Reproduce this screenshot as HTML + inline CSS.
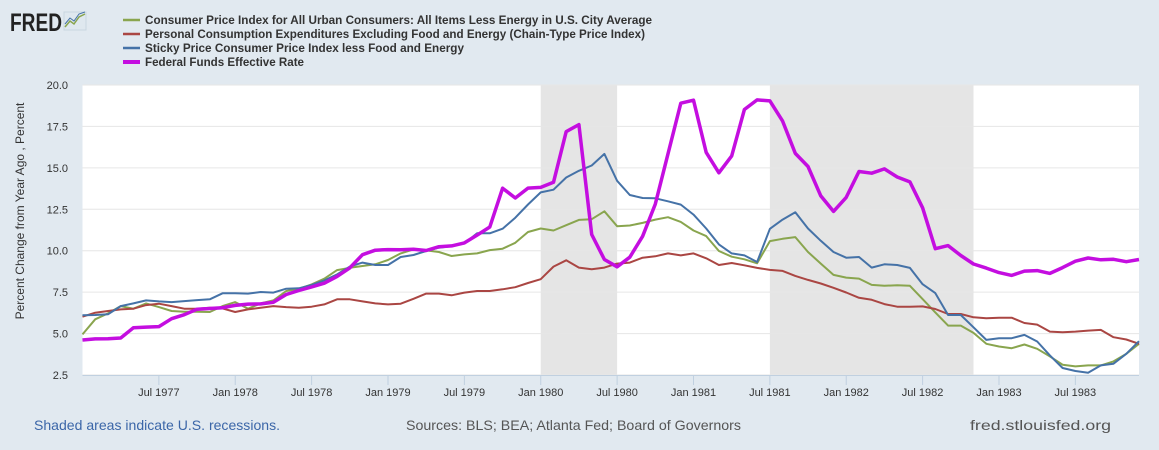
<!DOCTYPE html>
<html><head><meta charset="utf-8"><style>
html,body{margin:0;padding:0;background:#e1e9f0;width:1159px;height:450px;overflow:hidden}
svg{display:block;font-family:"Liberation Sans",Arial,sans-serif}
</style></head><body>
<svg id="chart" width="1159" height="450" xmlns="http://www.w3.org/2000/svg">
<rect width="1159" height="450" fill="#e1e9f0"/>
<g>
<text x="10" y="31" font-size="25" font-weight="bold" fill="#222" textLength="52" lengthAdjust="spacingAndGlyphs">FRED</text>
<rect x="64" y="12" width="22" height="18" fill="#dfe8ef" stroke="#c9d6e0"/>
<polyline points="65,27 70,21 74,24 79,17 85,14" fill="none" stroke="#89a54e" stroke-width="1.5"/>
<polyline points="65,24 70,18 74,21 79,14 85,12" fill="none" stroke="#4572a7" stroke-width="1"/>
</g>
<g id="legend" font-size="12" font-weight="bold" fill="#333"></g>
<g id="plot"></g>
<text x="0" y="0" transform="translate(24,211) rotate(-90)" text-anchor="middle" font-size="12" fill="#333">Percent Change from Year Ago , Percent</text>
<text x="34" y="430" font-size="14" fill="#3b66a8" textLength="246" lengthAdjust="spacingAndGlyphs">Shaded areas indicate U.S. recessions.</text>
<text x="406" y="430" font-size="14" fill="#555" textLength="335" lengthAdjust="spacingAndGlyphs">Sources: BLS; BEA; Atlanta Fed; Board of Governors</text>
<text x="970" y="430" font-size="14" fill="#555" textLength="141" lengthAdjust="spacingAndGlyphs">fred.stlouisfed.org</text>
</svg>
<script>
const startYear = 1977;
const fedFunds = [4.61,4.68,4.69,4.73,5.35,5.39,5.42,5.90,6.14,6.47,6.51,6.56,
6.70,6.78,6.79,6.89,7.36,7.60,7.81,8.04,8.45,8.96,9.76,10.03,
10.07,10.06,10.09,10.01,10.24,10.29,10.47,10.94,11.43,13.77,13.18,13.78,
13.82,14.13,17.19,17.61,10.98,9.47,9.03,9.61,10.87,12.81,15.85,18.90,
19.08,15.93,14.70,15.72,18.52,19.10,19.04,17.82,15.87,15.08,13.31,12.37,
13.22,14.78,14.68,14.94,14.45,14.15,12.59,10.12,10.31,9.71,9.20,8.95,
8.68,8.51,8.77,8.80,8.63,8.98,9.37,9.56,9.45,9.48,9.34,9.47];
const coreCpi = [4.95,5.86,6.22,6.66,6.5,6.82,6.6,6.36,6.32,6.32,6.3,6.66,
6.9,6.5,6.82,7.0,7.57,7.7,7.97,8.31,8.83,8.97,9.08,9.18,
9.44,9.84,10.08,10.02,9.92,9.68,9.78,9.84,10.04,10.12,10.48,11.13,
11.34,11.22,11.54,11.86,11.9,12.38,11.48,11.52,11.68,11.88,12.02,11.74,
11.22,10.88,9.98,9.64,9.48,9.24,10.58,10.72,10.82,9.92,9.22,8.54,
8.38,8.32,7.94,7.88,7.92,7.88,7.08,6.28,5.48,5.48,5.04,4.38,
4.22,4.12,4.34,4.08,3.62,3.12,3.02,3.08,3.08,3.32,3.78,4.38];
const corePce = [6.02,6.26,6.36,6.46,6.5,6.72,6.8,6.66,6.5,6.5,6.56,6.52,
6.3,6.46,6.56,6.66,6.6,6.56,6.62,6.76,7.07,7.07,6.94,6.82,
6.76,6.8,7.1,7.41,7.41,7.31,7.47,7.57,7.57,7.67,7.8,8.05,
8.28,9.04,9.42,8.98,8.88,8.98,9.22,9.28,9.58,9.66,9.84,9.72,
9.84,9.54,9.14,9.26,9.12,8.96,8.84,8.78,8.48,8.24,8.02,7.76,
7.48,7.16,7.04,6.78,6.62,6.62,6.64,6.48,6.18,6.18,5.98,5.92,
5.96,5.96,5.64,5.54,5.12,5.08,5.12,5.18,5.22,4.78,4.64,4.38];
const stickyCpi = [6.1,6.12,6.16,6.66,6.82,7.0,6.94,6.9,6.96,7.02,7.07,7.43,
7.43,7.41,7.51,7.47,7.71,7.73,7.93,8.21,8.57,9.04,9.28,9.14,
9.14,9.62,9.74,9.98,10.18,10.28,10.44,11.05,11.05,11.33,11.99,12.79,
13.52,13.68,14.42,14.82,15.14,15.84,14.22,13.36,13.18,13.16,12.98,12.78,
12.18,11.34,10.38,9.84,9.72,9.32,11.32,11.88,12.32,11.34,10.6,9.92,
9.58,9.62,8.98,9.18,9.14,8.96,7.98,7.44,6.12,6.12,5.38,4.62,
4.72,4.72,4.92,4.52,3.68,2.92,2.74,2.64,3.08,3.18,3.78,4.54];
const yTicks = [2.5,5.0,7.5,10.0,12.5,15.0,17.5,20.0];
const xTickLabels = ["Jul 1977","Jan 1978","Jul 1978","Jan 1979","Jul 1979","Jan 1980","Jul 1980","Jan 1981","Jul 1981","Jan 1982","Jul 1982","Jan 1983","Jul 1983"];
const xTickMonths = [6,12,18,24,30,36,42,48,54,60,66,72,78];
const recessionStarts = [36,54];
const recessionEnds = [42,70];
const legendLabels = ["Consumer Price Index for All Urban Consumers: All Items Less Energy in U.S. City Average","Personal Consumption Expenditures Excluding Food and Energy (Chain-Type Price Index)","Sticky Price Consumer Price Index less Food and Energy","Federal Funds Effective Rate"];

const NS="http://www.w3.org/2000/svg";
const L=82.5,R=1139,T=85,B=375;
const xScale=m=>L+(R-L)*m/83;
const yScale=v=>B-(B-T)*(v-2.5)/17.5;
function mk(tag,attrs,parent){const e=document.createElementNS(NS,tag);for(const k in attrs)e.setAttribute(k,attrs[k]);parent.appendChild(e);return e;}
const plot=document.getElementById('plot');
const bg=mk('rect',{x:L,y:T,width:R-L,height:B-T,fill:'#fff'},plot);


recessionStarts.forEach((s,i)=>{
 const r=mk('rect',{x:xScale(s),y:T,width:xScale(recessionEnds[i])-xScale(s),height:B-T,fill:'#e5e5e5'},plot);
 
 
});
yTicks.forEach(v=>{
 const g=mk('line',{x1:L,x2:R,y1:yScale(v),y2:yScale(v),stroke:'#e6e6e6','stroke-width':1},plot);
 
 
 const t=mk('text',{x:68,y:yScale(v)+4,'text-anchor':'end','font-size':11,fill:'#333'},plot);
 t.textContent=v.toFixed(1);
 
 
});
const ax=mk('line',{x1:L,x2:R,y1:B+0.5,y2:B+0.5,stroke:'#c0d0e0'},plot);


xTickMonths.forEach((m,i)=>{
 const tk=mk('line',{x1:xScale(m),x2:xScale(m),y1:B,y2:B+10,stroke:'#c0d0e0'},plot);
 
 
 const t=mk('text',{x:xScale(m),y:396,'text-anchor':'middle','font-size':11,fill:'#333'},plot);
 t.textContent=xTickLabels[i];
 
 
});
const series=[[coreCpi,'#89a54e',2,'series-core-cpi'],[corePce,'#aa4643',2,'series-core-pce'],[stickyCpi,'#4572a7',2,'series-sticky-cpi'],[fedFunds,'#c40ee0',3.5,'series-fed-funds']];
series.forEach(s=>{
 const p=mk('polyline',{points:s[0].map((v,i)=>xScale(i).toFixed(1)+','+yScale(v).toFixed(1)).join(' '),fill:'none',stroke:s[1],'stroke-width':s[2],'stroke-linejoin':'round'},plot);
 
 
});
const leg=document.getElementById('legend');
const legWidths=[507,500,319,159];
legendLabels.forEach((lab,i)=>{
 const y=20+i*14;
 const g=mk('g',{},leg);
 
 
 mk('line',{x1:123,x2:140,y1:y,y2:y,stroke:series[i][1],'stroke-width':i==3?4:2.5},g);
 const t=mk('text',{x:145,y:y+4,textLength:legWidths[i],lengthAdjust:'spacingAndGlyphs'},g);
 t.textContent=lab;
});
</script>
</body></html>
